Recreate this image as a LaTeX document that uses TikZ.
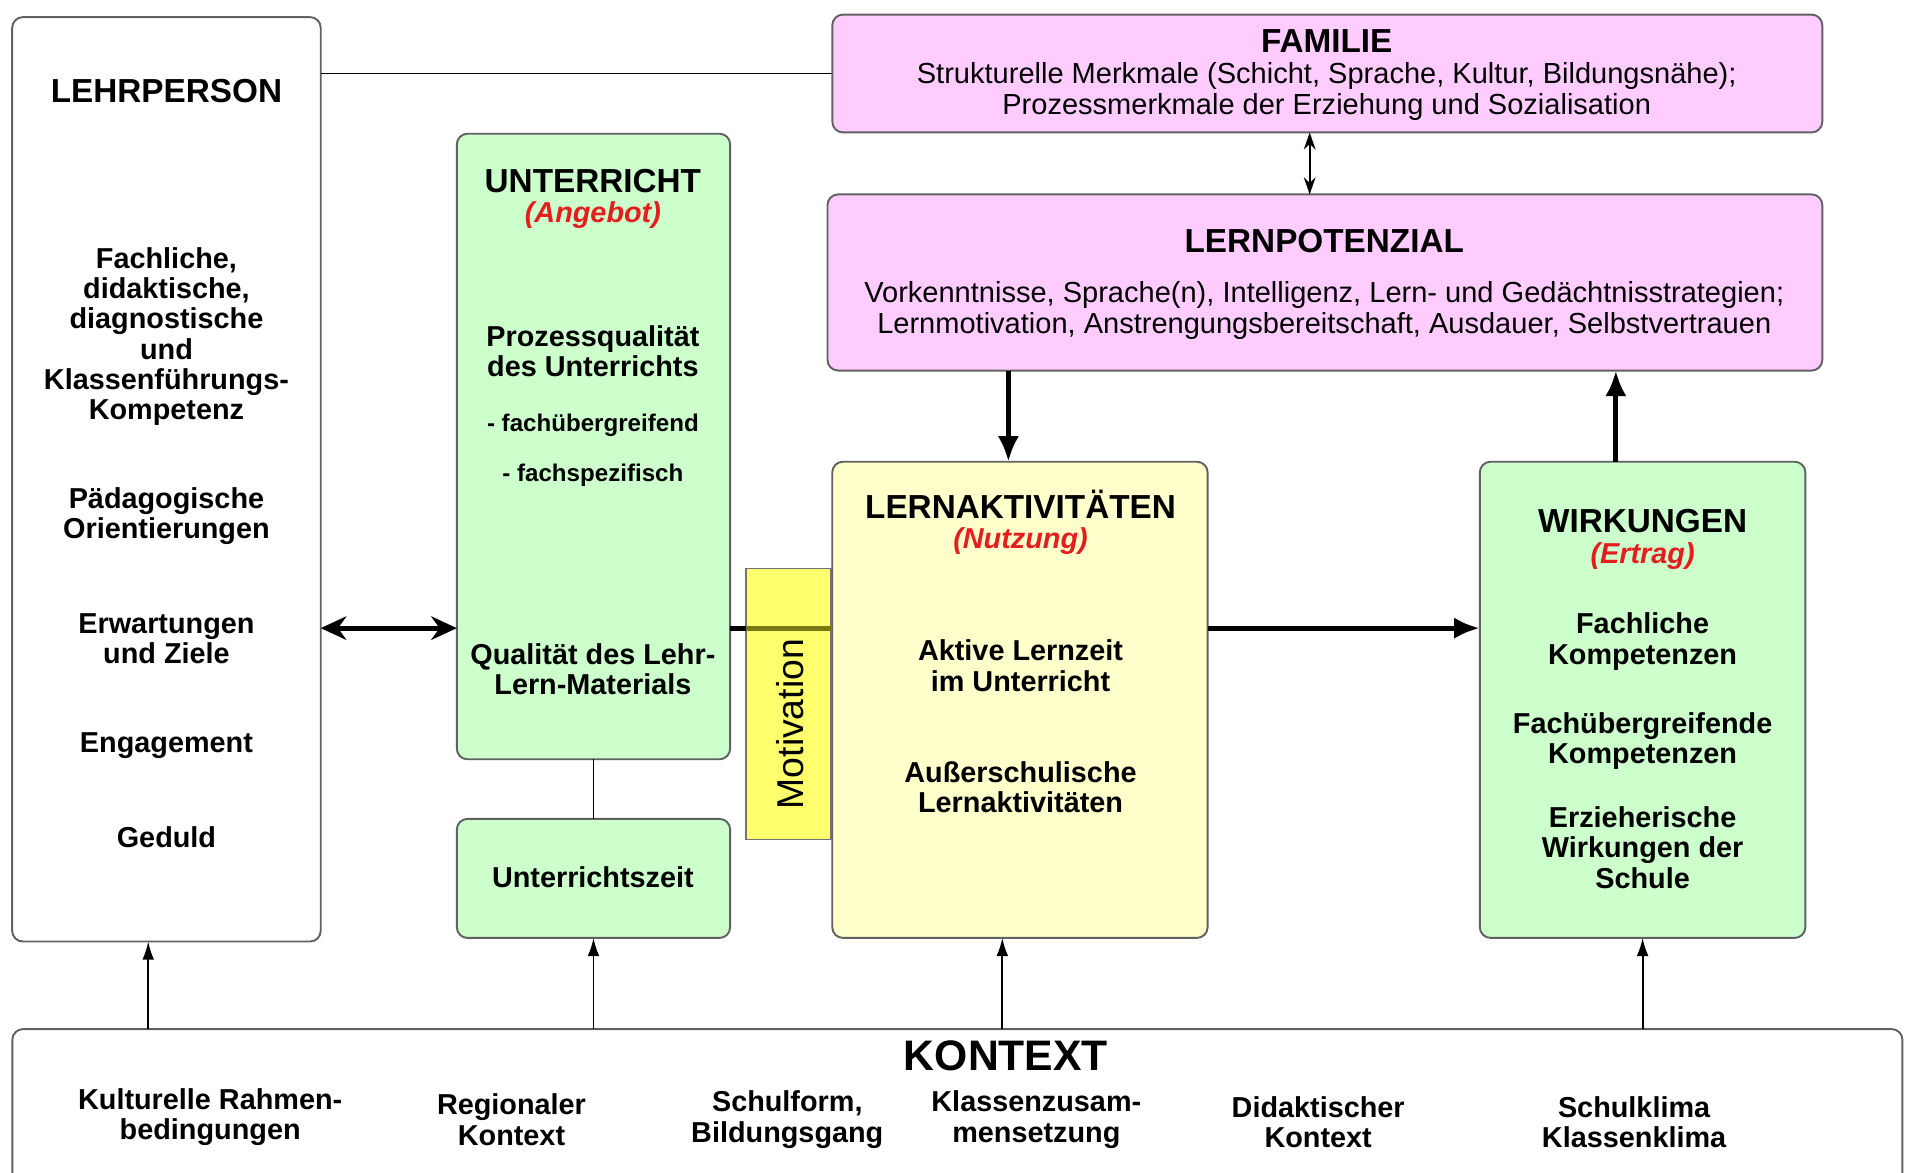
\documentclass[tikz,border=0pt]{standalone}
\usepackage{fontspec}
\setmainfont{Liberation Sans}
\usetikzlibrary{arrows.meta}
\definecolor{pinkbox}{RGB}{255,204,255}
\definecolor{greenbox}{RGB}{204,255,204}
\definecolor{yellowbox}{RGB}{255,255,204}
\definecolor{motyellow}{RGB}{255,255,110}
\definecolor{redsub}{RGB}{228,30,30}
\definecolor{olivebar}{RGB}{120,120,20}

\begin{document}
\begin{tikzpicture}[x=0.02cm,y=-0.02cm]

        \useasboundingbox (0,0) rectangle (1568,965);

        \begin{scope}[every node/.style={draw=black!62,line width=0.9pt,rounded corners=5pt,inner sep=0pt,outer sep=0pt}]
          \node[fill=white,minimum width=5.08cm,minimum height=15.22cm]      (lehr) at (137,394.5)  {};
          \node[fill=pinkbox,minimum width=16.3cm,minimum height=1.94cm]     (fam)  at (1092.5,60.5) {};
          \node[fill=pinkbox,minimum width=16.38cm,minimum height=2.9cm]     (pot)  at (1090.5,232.5) {};
          \node[fill=greenbox,minimum width=4.5cm,minimum height=10.3cm]     (unt)  at (488.5,367.5) {};
          \node[fill=greenbox,minimum width=4.5cm,minimum height=1.96cm]     (zeit) at (488.5,723)  {};
          \node[fill=yellowbox,minimum width=6.18cm,minimum height=7.84cm]   (akt)  at (839.5,576)  {};
          \node[fill=greenbox,minimum width=5.36cm,minimum height=7.84cm]    (wirk) at (1352,576)   {};
          \node[fill=white,minimum width=31.12cm,minimum height=3.06cm]      (kon)  at (788,923.5)  {};
          \node[fill=motyellow,rounded corners=0pt,draw=black!55,line width=0.6pt,
                minimum width=1.4cm,minimum height=4.46cm]                   (mot)  at (649,579.5)  {};
        \end{scope}

        \coordinate (mid) at (0,517);

        \begin{scope}[line width=0.85pt]
          \path (lehr.east |- fam.west) edge (fam.west);
          \path (unt.south) edge (zeit.north);
          \path[<->,>={Stealth[length=8pt,width=5.5pt]}] (fam.south -| 1078,0) edge (pot.north -| 1078,0);
          \begin{scope}[->,>={Latex[length=8.5pt,width=5.5pt]}]
            \path (kon.north -| 122,0)  edge (lehr.south -| 122,0);
            \path (kon.north -| zeit.south) edge (zeit.south);
            \path (kon.north -| 825,0)  edge (akt.south -| 825,0);
            \path (kon.north -| wirk.south) edge (wirk.south);
          \end{scope}
        \end{scope}

        \begin{scope}[line width=2.4pt]
          \path[<->,>={Stealth[length=12pt,width=11pt]}] (lehr.east |- mid) edge (unt.west |- mid);
          \draw (unt.east |- mid) -- (mot.west |- mid);
          \draw[olivebar] (mot.west |- mid) -- (mot.east |- mid);
          \begin{scope}[->,>={Latex[length=12pt,width=10pt]}]
            \path (akt.east |- mid) edge (wirk.west |- mid);
            \path (pot.south -| 830,0) edge (akt.north -| 830,0);
            \path (wirk.north -| 1330,0) edge (pot.south -| 1330,0);
          \end{scope}
        \end{scope}

        \begin{scope}[every node/.style={align=center,inner sep=0pt,font=\fontsize{13.5}{14.2}\selectfont\bfseries}]
          \node[font=\fontsize{15.6}{18}\selectfont\bfseries] (lehrT) at (137,75) {LEHRPERSON};
          \node (lehr1) at (137,277) {Fachliche,\\didaktische,\\diagnostische\\und\\Klassenführungs-\\Kompetenz};
          \node (lehr2) at (137,425) {Pädagogische\\Orientierungen};
          \node (lehr3) at (137,526) {Erwartungen\\und Ziele};
          \node (lehr4) at (137,614)   {Engagement};
          \node (lehr5) at (137,689)   {Geduld};

          \node[font=\fontsize{15.6}{18}\selectfont\bfseries] (untT) at (488,149) {UNTERRICHT};
          \node[text=redsub,font=\fontsize{13.5}{14.2}\selectfont\bfseries\itshape] (untS) at (488,177) {(Angebot)};
          \node (unt1) at (488,289) {Prozessqualität\\des Unterrichts};
          \node[font=\fontsize{11.3}{13}\selectfont\bfseries] (unt2) at (488,350) {- fachübergreifend};
          \node[font=\fontsize{11.3}{13}\selectfont\bfseries] (unt3) at (488,391) {- fachspezifisch};
          \node (unt4) at (488,551) {Qualität des Lehr-\\Lern-Materials};
          \node (zeitT) at (488,722) {Unterrichtszeit};

          \node[font=\fontsize{17.5}{20}\selectfont,rotate=90] (motT) at (650,596) {Motivation};

          \node[font=\fontsize{15.6}{18}\selectfont\bfseries] (famT) at (1092,34) {FAMILIE};
          \node[font=\fontsize{13.6}{14.5}\selectfont] (fam1) at (1092,75) {Strukturelle Merkmale (Schicht, Sprache, Kultur, Bildungsnähe);\\Prozessmerkmale der Erziehung und Sozialisation};

          \node[font=\fontsize{15.6}{18}\selectfont\bfseries] (potT) at (1090,198) {LERNPOTENZIAL};
          \node[font=\fontsize{13.6}{14.5}\selectfont] (pot1) at (1090,255.5) {Vorkenntnisse, Sprache(n), Intelligenz, Lern- und Gedächtnisstrategien;\\Lernmotivation, Anstrengungsbereitschaft, Ausdauer, Selbstvertrauen};

          \node[font=\fontsize{15.6}{18}\selectfont\bfseries] (aktT) at (840,415) {LERNAKTIVITÄTEN};
          \node[text=redsub,font=\fontsize{13.5}{14.2}\selectfont\bfseries\itshape] (aktS) at (840,445) {(Nutzung)};
          \node (akt1) at (840,548) {Aktive Lernzeit\\im Unterricht};
          \node (akt2) at (840,648) {Außerschulische\\Lernaktivitäten};

          \node[font=\fontsize{15.6}{18}\selectfont\bfseries] (wirkT) at (1352,429) {WIRKUNGEN};
          \node[text=redsub,font=\fontsize{13.5}{14.2}\selectfont\bfseries\itshape] (wirkS) at (1352,458) {(Ertrag)};
          \node (wirk1) at (1352,528) {Fachliche\\Kompetenzen};
          \node (wirk2) at (1352,610) {Fachübergreifende\\Kompetenzen};
          \node (wirk3) at (1352,697.5) {Erzieherische\\Wirkungen der\\Schule};

          \node[font=\fontsize{20}{24}\selectfont\bfseries] (konT) at (828,869) {KONTEXT};
          \node (kon1) at (173,919.5)  {Kulturelle Rahmen-\\bedingungen};
          \node (kon2) at (421,921.5)  {Regionaler\\Kontext};
          \node (kon3) at (648,921.5)  {Schulform,\\Bildungsgang};
          \node (kon4) at (853,921.5)  {Klassenzusam-\\mensetzung};
          \node (kon5) at (1085,923.5) {Didaktischer\\Kontext};
          \node (kon6) at (1345,923.5) {Schulklima\\Klassenklima};
        \end{scope}

      \end{tikzpicture}
\end{document}
